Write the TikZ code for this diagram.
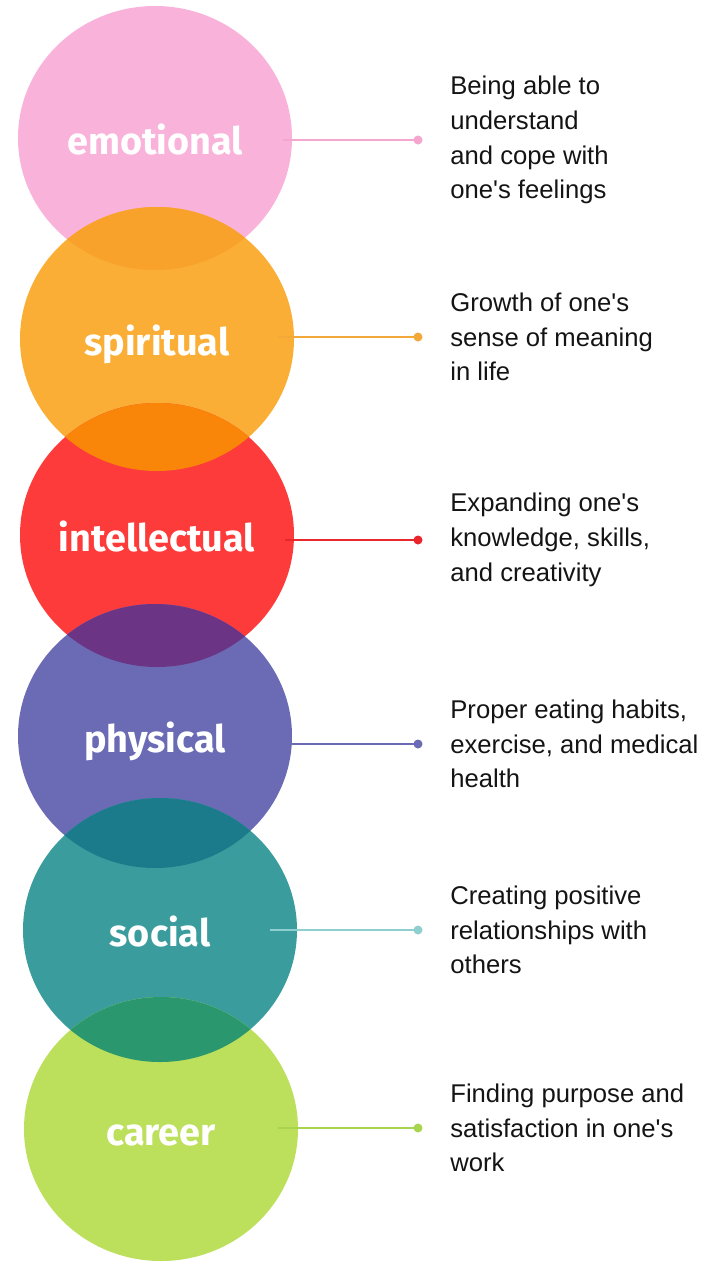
\documentclass[tikz,border=0pt]{standalone}
\usepackage{fontspec}
\usepackage{xcolor}
\usepackage{tikz}
\usetikzlibrary{positioning}
\usetikzlibrary{shapes}
\newfontfamily\descfont{Liberation Sans}
\newfontfamily\ringfont{Fira Sans}
\definecolor{pinkc}{HTML}{F9B2D9}
\definecolor{orangec}{HTML}{FBAE36}
\definecolor{redc}{HTML}{FE3B3B}
\definecolor{purplec}{HTML}{6B6BB5}
\definecolor{tealc}{HTML}{3A9C9D}
\definecolor{greenc}{HTML}{BCDF5C}
\definecolor{pinkorange}{HTML}{F8A22B}
\definecolor{orangered}{HTML}{F98509}
\definecolor{redpurple}{HTML}{6C3484}
\definecolor{purpleteal}{HTML}{1C7B8B}
\definecolor{tealgreen}{HTML}{2A976F}
\definecolor{pinkline}{HTML}{F4A6CF}
\definecolor{orangeline}{HTML}{F3A93A}
\definecolor{redline}{HTML}{E8262C}
\definecolor{purpleline}{HTML}{6B6BB5}
\definecolor{tealline}{HTML}{8FCFD0}
\definecolor{greenline}{HTML}{A9D44D}
\tikzstyle{circ}=[ellipse,minimum width=5.48cm,minimum height=5.28cm,inner sep=0pt]
\tikzstyle{circlabel}=[anchor=base,text=white,font=\ringfont\bfseries\fontsize{21.5}{21.5}\selectfont]
\tikzstyle{spoke} = [draw,line width=1.1pt]
\tikzstyle{descr} = [inner sep=0pt,align=left,text=black!92,font=\descfont\fontsize{14.6}{19.8}\selectfont]

\begin{document}
\begin{tikzpicture}
    \useasboundingbox (0,0) rectangle (14.54,-25.26);
    % First we draw the circles
    \foreach \pos/\name/\col in {{(3.10,-2.76)/emotional/pinkc},
    {(3.14,-6.78)/spiritual/orangec}, {(3.14,-10.70)/intellectual/redc},
    {(3.10,-14.72)/physical/purplec}, {(3.20,-18.60)/social/tealc},
    {(3.22,-22.58)/career/greenc}}
        \node[circ, fill=\col] (\name) at \pos {};

    % Darker overlap between two neighbours
    \foreach \up/\down/\col in {emotional/spiritual/pinkorange, spiritual/intellectual/orangered,
    intellectual/physical/redpurple, physical/social/purpleteal, social/career/tealgreen}
    {
        \begin{scope}
        \clip (\up) ellipse [x radius=2.74cm, y radius=2.64cm];
        \fill[\col] (\down) ellipse [x radius=2.74cm, y radius=2.64cm];
        \end{scope}
    }

    % Labels inside the circles
    \foreach \name in {emotional, spiritual, intellectual, physical, social, career}
        \node[circlabel] at ([yshift=-0.32cm]\name.center) {\name};

    % Connect circles with dots and draw the texts
    \foreach \name/\x/\y/\col/\txt in {
    {emotional/5.66/-2.80/pinkline/{Being able to\\understand\\and cope with\\one's feelings}},
    {spiritual/5.56/-6.74/orangeline/{Growth of one's\\sense of meaning\\in life}},
    {intellectual/5.70/-10.80/redline/{Expanding one's\\knowledge, skills,\\and creativity}},
    {physical/5.54/-14.88/purpleline/{Proper eating habits,\\exercise, and medical\\health}},
    {social/5.40/-18.60/tealline/{Creating positive\\relationships with\\others}},
    {career/5.56/-22.56/greenline/{Finding purpose and\\satisfaction in one's\\work}}}
    {
        \coordinate (\name-start) at (\x,\y);
        \coordinate (\name-dot) at (8.36,\y);
        \path[spoke, draw=\col] (\name-start) -- (\name-dot);
        \fill[\col] (\name-dot) circle (0.09);
        \node[descr, right=0.64cm of \name-dot] (\name-text) {\txt};
    }
%   \draw[help lines] (0,0) grid (14,-25);
\end{tikzpicture}
\end{document}
